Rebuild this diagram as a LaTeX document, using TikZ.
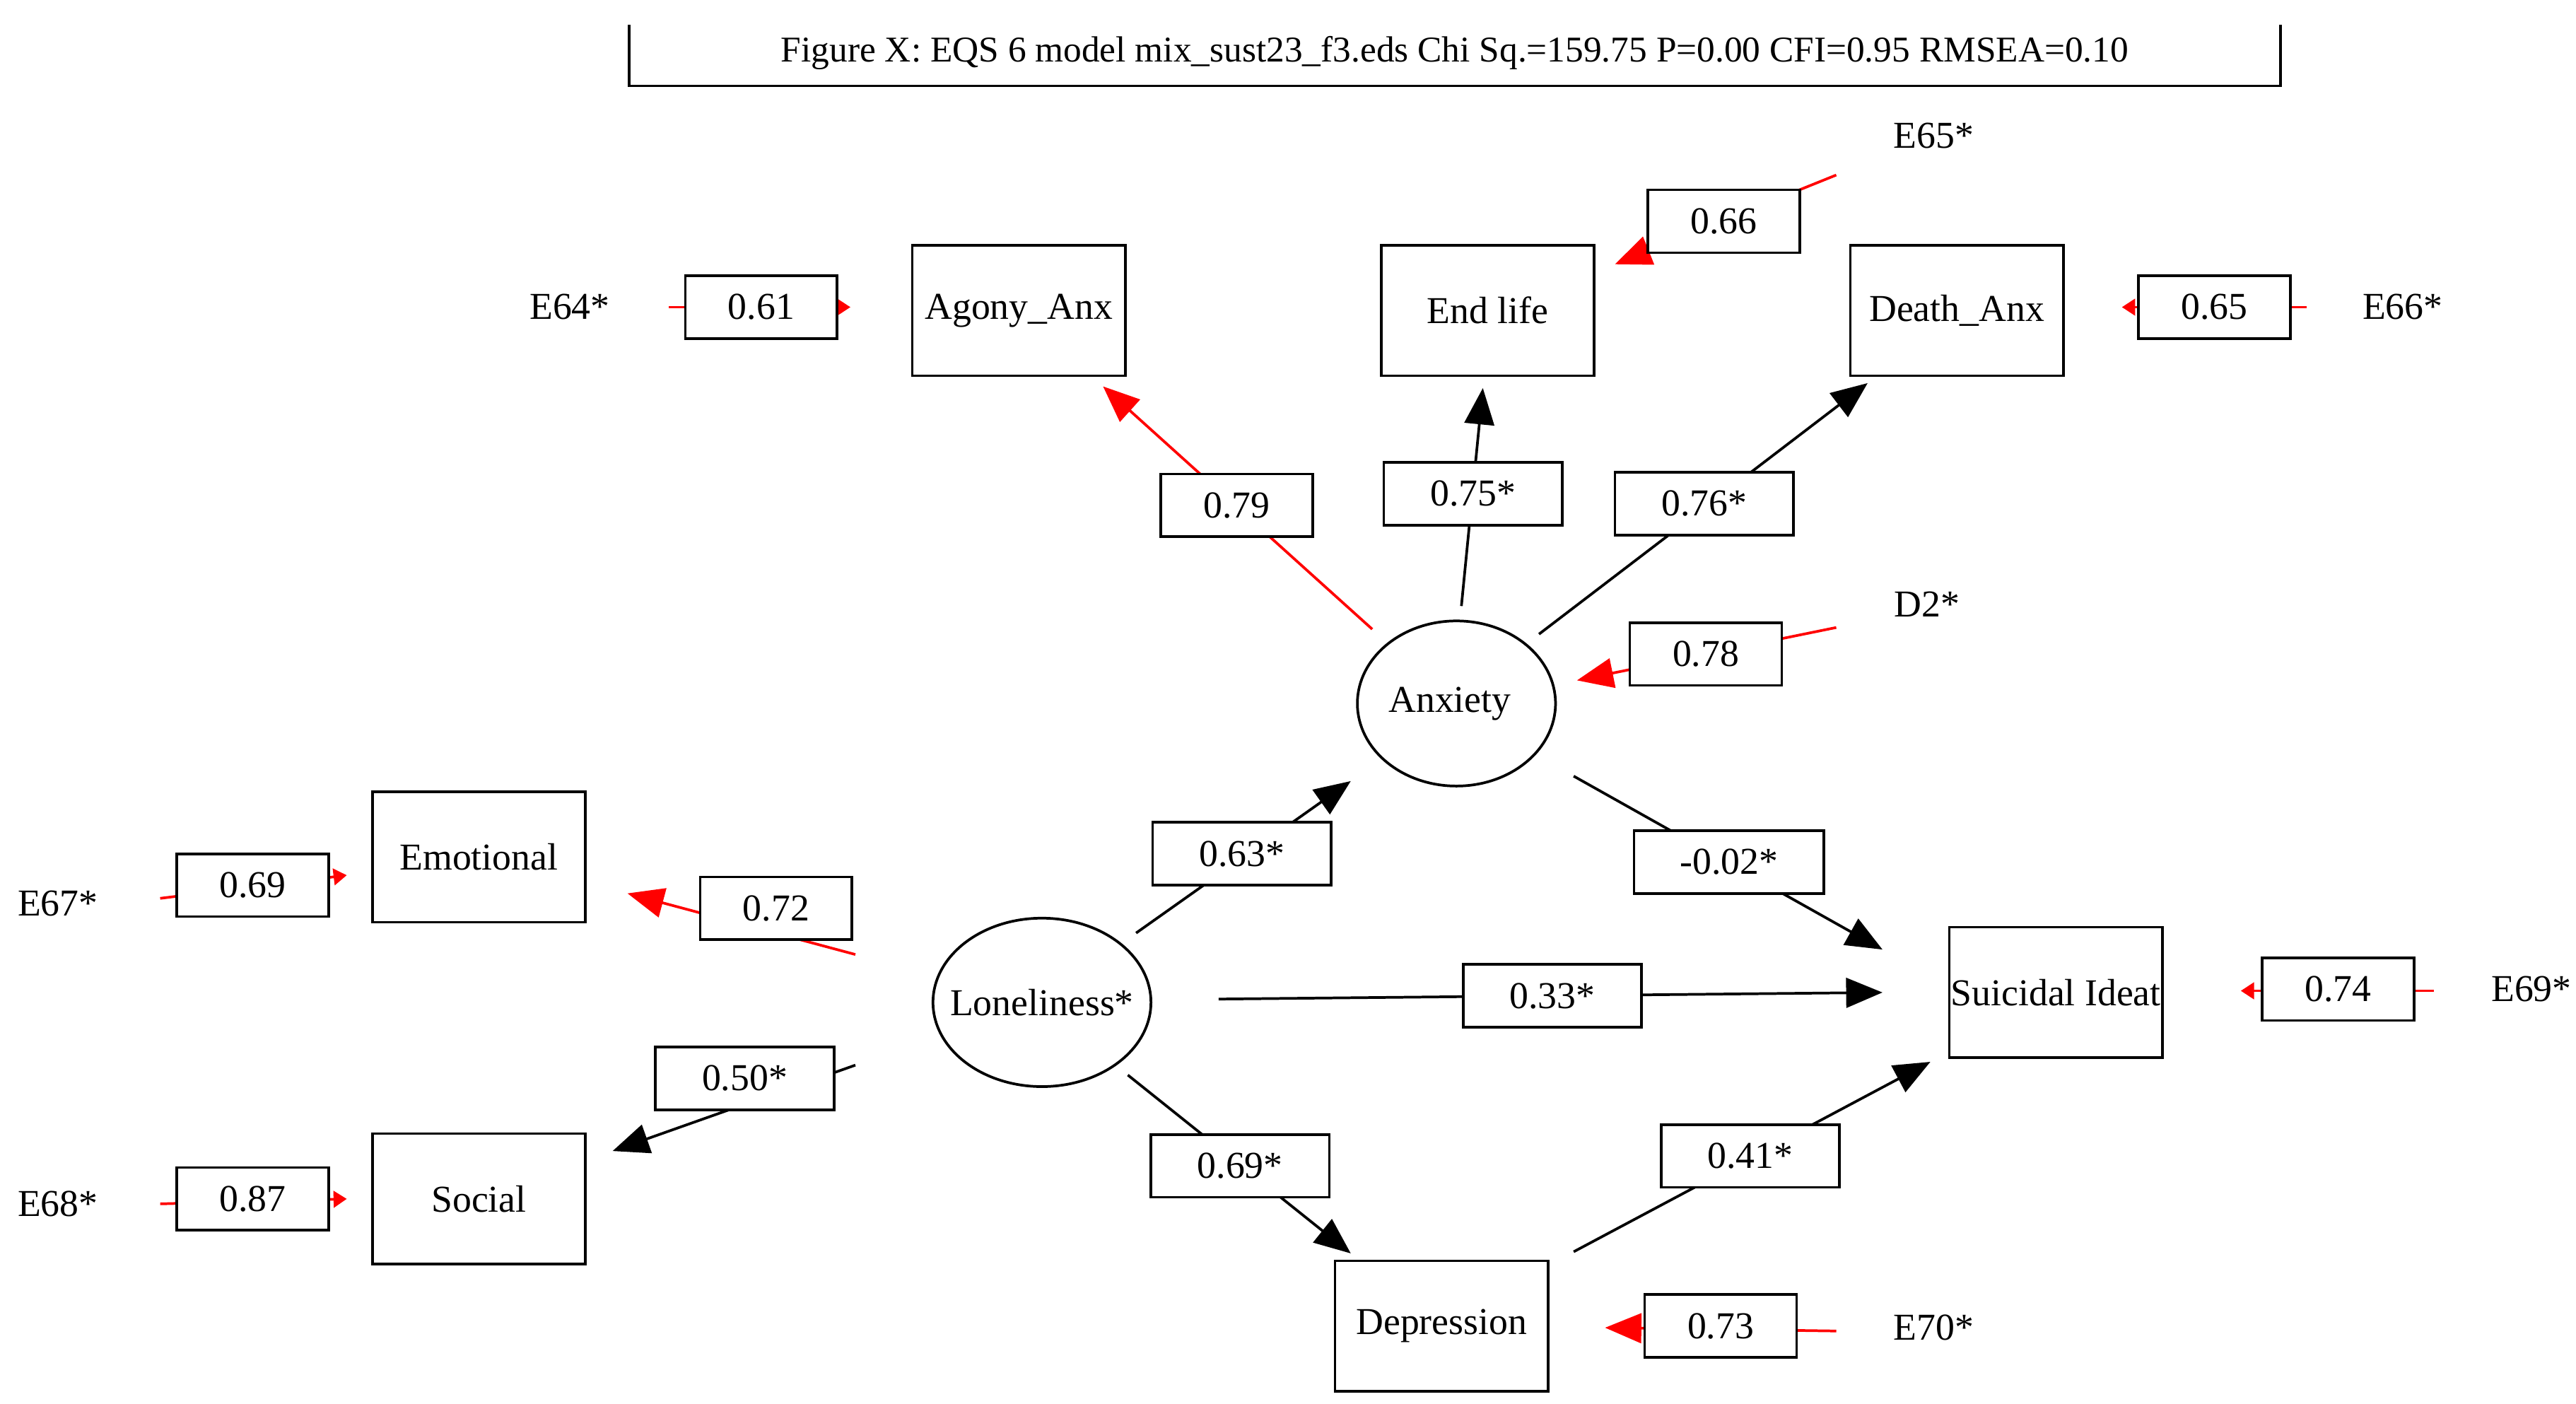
\documentclass[tikz,border=0pt]{standalone}
\usepackage{fontspec}
\setmainfont{Liberation Serif}
\usetikzlibrary{arrows.meta}
\begin{document}
\begin{tikzpicture}[x=1pt,y=-1pt,line width=1.6pt,
 every node/.style={font=\fontsize{23}{26}\selectfont},
 var/.style={draw,minimum width=129pt,minimum height=79pt,inner sep=0pt},
 lat/.style={draw,ellipse,inner sep=0pt},
 lab/.style={draw,fill=white,minimum width=92pt,minimum height=38pt,inner sep=0pt},
 labw/.style={lab,minimum width=108pt},
 ba/.style={-{Triangle[length=22pt,width=18pt]}},
 ra/.style={red,-{Triangle[length=22pt,width=18pt]}},
 rs/.style={red,-{Triangle[length=8pt,width=10pt]}}]
\useasboundingbox (0,0) rectangle (1560,850);
\draw (381,15)--(381,52)--(1381,52)--(1381,15);
\node (title) at (881,32) {\fontsize{22}{24}\selectfont Figure X: EQS 6 model mix\_sust23\_f3.eds Chi Sq.=159.75 P=0.00 CFI=0.95 RMSEA=0.10};
% variables
\node[var] (agony) at (617,188) {Agony\_Anx};
\node[var] (end) at (901,188) {End life};
\node[var] (death) at (1185,188) {Death\_Anx};
\node[var] (emo) at (290,519) {Emotional};
\node[var] (soc) at (290,726) {Social};
\node[var] (sui) at (1245,601) {Suicidal Ideat};
\node[var] (dep) at (873,803) {Depression};
\draw (882,426) ellipse (60pt and 50pt);
\node (anx) at (878,426) {Anxiety};
\draw (631,607) ellipse (66pt and 51pt);
\node (lon) at (631,607) {Loneliness*};
% coordinates
\coordinate (a1) at (831,381); \coordinate (a1e) at (668,234);
\coordinate (a2) at (885,367); \coordinate (a2e) at (898,235);
\coordinate (a3) at (932,384); \coordinate (a3e) at (1131,232);
\coordinate (a4) at (953,470); \coordinate (a4e) at (1140,575);
\coordinate (l1) at (688,565); \coordinate (l1e) at (818,473);
\coordinate (l2) at (738,605); \coordinate (l2e) at (1140,601);
\coordinate (l3) at (683,651); \coordinate (l3e) at (818,759);
\coordinate (d1) at (953,758); \coordinate (d1e) at (1169,643);
\coordinate (l4) at (518,645); \coordinate (l4e) at (371,697);
\coordinate (l5) at (518,578); \coordinate (l5e) at (380,541);
\coordinate (e64) at (405,186); \coordinate (e64e) at (515,186);
\coordinate (e66) at (1397,186); \coordinate (e66e) at (1285,186);
\coordinate (e65) at (1112,106); \coordinate (e65e) at (978,160);
\coordinate (d2) at (1112,380); \coordinate (d2e) at (955,412);
\coordinate (e67) at (97,544); \coordinate (e67e) at (210,530);
\coordinate (e68) at (97,729); \coordinate (e68e) at (210,726);
\coordinate (e69) at (1474,600); \coordinate (e69e) at (1357,600);
\coordinate (e70) at (1112,806); \coordinate (e70e) at (972,804);
% connectors
\draw[ra] (a1)--(a1e);
\draw[ba] (a2)--(a2e);
\draw[ba] (a3)--(a3e);
\draw[ba] (a4)--(a4e);
\draw[ba] (l1)--(l1e);
\draw[ba] (l2)--(l2e);
\draw[ba] (l3)--(l3e);
\draw[ba] (d1)--(d1e);
\draw[ba] (l4)--(l4e);
\draw[ra] (l5)--(l5e);
\draw[rs] (e64)--(e64e);
\draw[rs] (e66)--(e66e);
\draw[ra] (e65)--(e65e);
\draw[ra] (d2)--(d2e);
\draw[rs] (e67)--(e67e);
\draw[rs] (e68)--(e68e);
\draw[rs] (e69)--(e69e);
\draw[ra] (e70)--(e70e);
% labels
\node[lab] (p61) at (461,186) {0.61};
\node[lab] (p66) at (1044,134) {0.66};
\node[lab] (p65) at (1341,186) {0.65};
\node[lab] (p79) at (749,306) {0.79};
\node[labw] (p75) at (892,299) {0.75*};
\node[labw] (p76) at (1032,305) {0.76*};
\node[lab] (p78) at (1033,396) {0.78};
\node[lab] (p69) at (153,536) {0.69};
\node[lab] (p72) at (470,550) {0.72};
\node[labw] (p63) at (752,517) {0.63*};
\node[lab,minimum width=115pt] (p02) at (1047,522) {-0.02*};
\node[labw] (p33) at (940,603) {0.33*};
\node[lab] (p74) at (1416,599) {0.74};
\node[labw] (p50) at (451,653) {0.50*};
\node[lab] (p87) at (153,726) {0.87};
\node[labw] (p69s) at (751,706) {0.69*};
\node[labw] (p41) at (1060,700) {0.41*};
\node[lab] (p73) at (1042,803) {0.73};
% error labels
\node (E64) at (345,186) {E64*};
\node (E65) at (1171,82) {E65*};
\node (E66) at (1455,186) {E66*};
\node (D2) at (1167,366) {D2*};
\node (E67) at (35,547) {E67*};
\node (E68) at (35,729) {E68*};
\node (E69) at (1533,599) {E69*};
\node (E70) at (1171,804) {E70*};
\end{tikzpicture}
\end{document}
